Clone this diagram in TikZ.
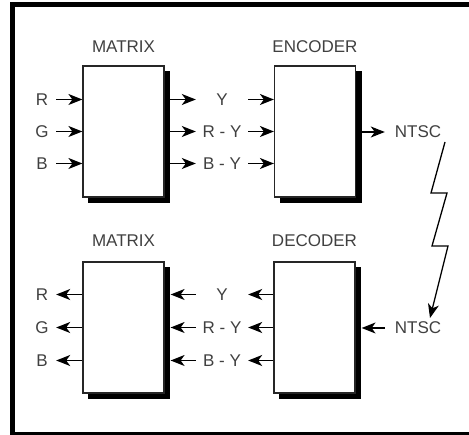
\documentclass[tikz,border=0pt]{standalone}
\usepackage{fontspec}
\setmainfont{Liberation Sans}
\usetikzlibrary{arrows.meta}

\begin{document}
\begin{tikzpicture}[x=1pt,y=-1pt,
  box/.style={draw=black!85,line width=1.2pt,fill=white,minimum width=81pt,minimum height=131pt,inner sep=0pt},
  sig/.style={line width=1.3pt,-{Stealth[length=14pt,width=11pt,inset=4pt]}},
  txt/.style={text=black!75,font=\fontsize{17}{20}\selectfont,inner sep=0pt},
  side/.style={txt,minimum width=28pt},
  mid/.style={txt,minimum width=52pt}]
  \useasboundingbox (0,0) rectangle (469,435);
  \draw[line width=5pt] (469,4.5) -- (12.5,4.5) -- (12.5,433.5);
  \draw[line width=3pt] (10,433.5) -- (469,433.5);

  \foreach \n/\px/\py in {mtxA/123.5/131.5,enc/315/131.5,mtxB/123.5/327.5,dec/314.5/327.5}{
    \fill[black] (\px-35.5,\py-60.5) rectangle (\px+46.5,\py+71.5);
    \node[box] (\n) at (\px,\py) {};
  }
  \node[txt] at (123.5,47) {MATRIX};
  \node[txt] at (315,47) {ENCODER};
  \node[txt] at (123.5,241) {MATRIX};
  \node[txt] at (314.5,241) {DECODER};

  \foreach \i/\c/\d/\dy in {1/R/Y/-32,2/G/R - Y/0,3/B/B - Y/32}{
    \node[side] (inA\i) at (42,131.5+\dy) {\c};
    \node[mid] (midA\i) at (222,131.5+\dy) {\d};
    \draw[sig] (inA\i.east) -- (mtxA.west |- inA\i);
    \draw[sig] (mtxA.east |- midA\i) -- (midA\i.west);
    \draw[sig] (midA\i.east) -- (enc.west |- midA\i);
  }
  \foreach \i/\c/\d/\dy in {1/R/Y/-33,2/G/R - Y/0,3/B/B - Y/33}{
    \node[side] (outB\i) at (42,327.5+\dy) {\c};
    \node[mid] (midB\i) at (222,327.5+\dy) {\d};
    \draw[sig] (mtxB.west |- outB\i) -- (outB\i.east);
    \draw[sig] (midB\i.west) -- ([xshift=6pt]mtxB.east |- midB\i);
    \draw[sig] (dec.west |- midB\i) -- (midB\i.east);
  }

  \node[txt,minimum width=66pt] (ntscA) at (418,132) {NTSC};
  \node[txt,minimum width=66pt] (ntscB) at (418,328) {NTSC};
  \draw[sig] (enc.east |- ntscA) -- (ntscA.west);
  \draw[sig] (ntscB.west) -- ([xshift=6pt]dec.east |- ntscB);

  \coordinate (z0) at (445,142);
  \coordinate (z1) at (431,193);
  \coordinate (z2) at (447,193);
  \coordinate (z3) at (432,246);
  \coordinate (z4) at (448,246);
  \coordinate (z5) at (430,318);
  \draw[sig,line join=miter] (z0) -- (z1) -- (z2) -- (z3) -- (z4) -- (z5);
\end{tikzpicture}
\end{document}
